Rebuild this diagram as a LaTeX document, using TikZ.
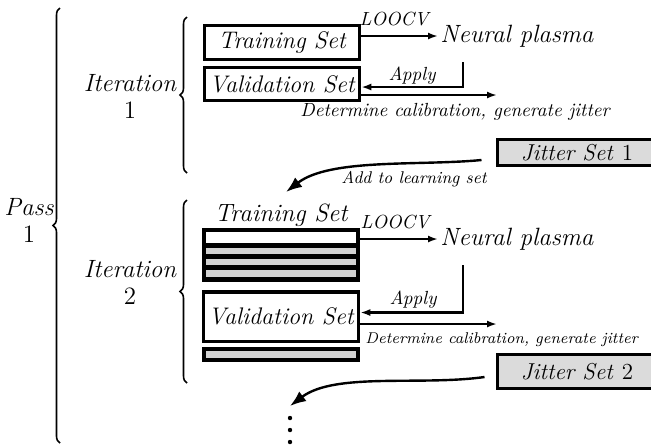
\documentclass[tikz,border=0pt]{standalone}
\usepackage{fontspec}
\usepackage{tikz}
\usetikzlibrary{arrows.meta,decorations.pathreplacing}
\tikzstyle{setbox} = [draw=black, fill=white, line width=1.75pt,
    rectangle, inner sep=0pt, minimum width=77.5pt, font=\fontsize{12}{14}\selectfont\itshape]
\tikzstyle{jitterbox} = [setbox, fill=gray!28, line width=1.5pt, minimum width=80pt,
    font=\fontsize{11.5}{13.5}\selectfont\itshape]
\tikzstyle{band} = [rectangle, fill=gray!35, inner sep=0pt, minimum width=75pt]
\tikzstyle{stack} = [rectangle, fill=black, inner sep=0pt, minimum width=79pt]
\tikzstyle{bigtext} = [font=\fontsize{12.5}{13.5}\selectfont\itshape, inner sep=1pt, align=center]
\tikzstyle{smalltext} = [font=\fontsize{9.5}{11}\selectfont\itshape, inner sep=1pt]
\tikzstyle{notetext} = [font=\fontsize{8.5}{10}\selectfont\itshape, inner sep=1pt]
\tikzstyle{flow} = [line width=1.2pt, -{Latex[length=5pt,width=3.5pt]}]
\tikzstyle{feedback} = [line width=1.2pt, -{Latex[length=8pt,width=6pt]}]
\tikzstyle{setbrace} = [decorate, decoration={brace, amplitude=3.5pt}, line width=0.8pt]
\begin{document}
\begin{tikzpicture}[x=0.5pt, y=-0.5pt]
\useasboundingbox (0,0) rectangle (651,447);

\draw[setbrace] (60,443) -- (60,8);
\node[bigtext] (pass) at (29,220) {Pass\\\textup{1}};

% first iteration
\draw[setbrace] (187,173) -- (187,17);
\node[bigtext] (iter1) at (130,96) {Iteration\\\textup{1}};
\node[setbox, minimum height=17pt] (train1) at (282,42.5) {Training Set};
\node[setbox, minimum height=16.5pt] (valid1) at (282,84) {Validation Set};
\node[bigtext, anchor=west] (plasma1) at (438,36) {Neural plasma};
\coordinate (turn1) at (463,62);
\coordinate (det1) at (497,95);
\coordinate (add1) at (286,192);
\node[jitterbox, minimum height=13pt] (jitter1) at (577,152.5) {Jitter Set \textup{1}};
\draw[flow] (train1.east |- plasma1.west) -- (plasma1.west);
\draw[flow] (turn1) |- ([yshift=-1.5pt]valid1.east);
\draw[flow] (valid1.east |- det1) -- (det1);
\draw[feedback] ([xshift=-7pt,yshift=-3.75pt]jitter1.west) .. controls (420,166) and (330,158) .. (add1);
\node[smalltext] (loocv1) at (394,19) {LOOCV};
\node[smalltext] (apply1) at (412,76) {Apply};
\node[smalltext] (determine1) at (455,112) {Determine calibration, generate jitter};
\node[notetext] (learn1) at (414,179) {Add to learning set};

% second iteration
\draw[setbrace] (187,383) -- (187,200);
\node[bigtext] (iter2) at (130,282) {Iteration\\\textup{2}};
\node[bigtext] (trainlabel2) at (281,215) {Training Set};
\node[stack, minimum height=27pt] (train2) at (281,255) {};
\node[band, fill=white, minimum height=5.5pt] (row1) at (281,237.5) {};
\node[band, minimum height=3pt] (row2) at (281,251) {};
\node[band, minimum height=3pt] (row3) at (281,262) {};
\node[band, minimum height=3.5pt] (row4) at (281,273.5) {};
\node[setbox, minimum height=24.75pt] (valid2) at (281,316.5) {Validation Set};
\node[stack, minimum height=7.5pt] (extra2) at (281,354.5) {};
\node[band, minimum height=3.5pt] (row5) at (281,354.5) {};
\node[bigtext, anchor=west] (plasma2) at (438,239) {Neural plasma};
\coordinate (turn2) at (463,265);
\coordinate (det2) at (497,324);
\coordinate (add2) at (290,406);
\node[jitterbox, minimum height=17pt] (jitter2) at (577,371.5) {Jitter Set \textup{2}};
\draw[flow] (train2.east |- plasma2.west) -- (plasma2.west);
\draw[flow] (turn2) |- ([yshift=2pt]valid2.east);
\draw[flow] (valid2.east |- det2) -- (det2);
\draw[feedback] ([xshift=-5.5pt,yshift=-2.75pt]jitter2.west) .. controls (420,386) and (335,372) .. (add2);
\node[smalltext] (loocv2) at (395,222) {LOOCV};
\node[smalltext] (apply2) at (413,300) {Apply};
\node[notetext, anchor=west, font=\fontsize{7.8}{9}\selectfont\itshape] (determine2) at (363,340) {Determine calibration, generate jitter};

\fill (290,418) circle (1.1pt);
\fill (290,430) circle (1.1pt);
\fill (290,442) circle (1.1pt);
\end{tikzpicture}
\end{document}
